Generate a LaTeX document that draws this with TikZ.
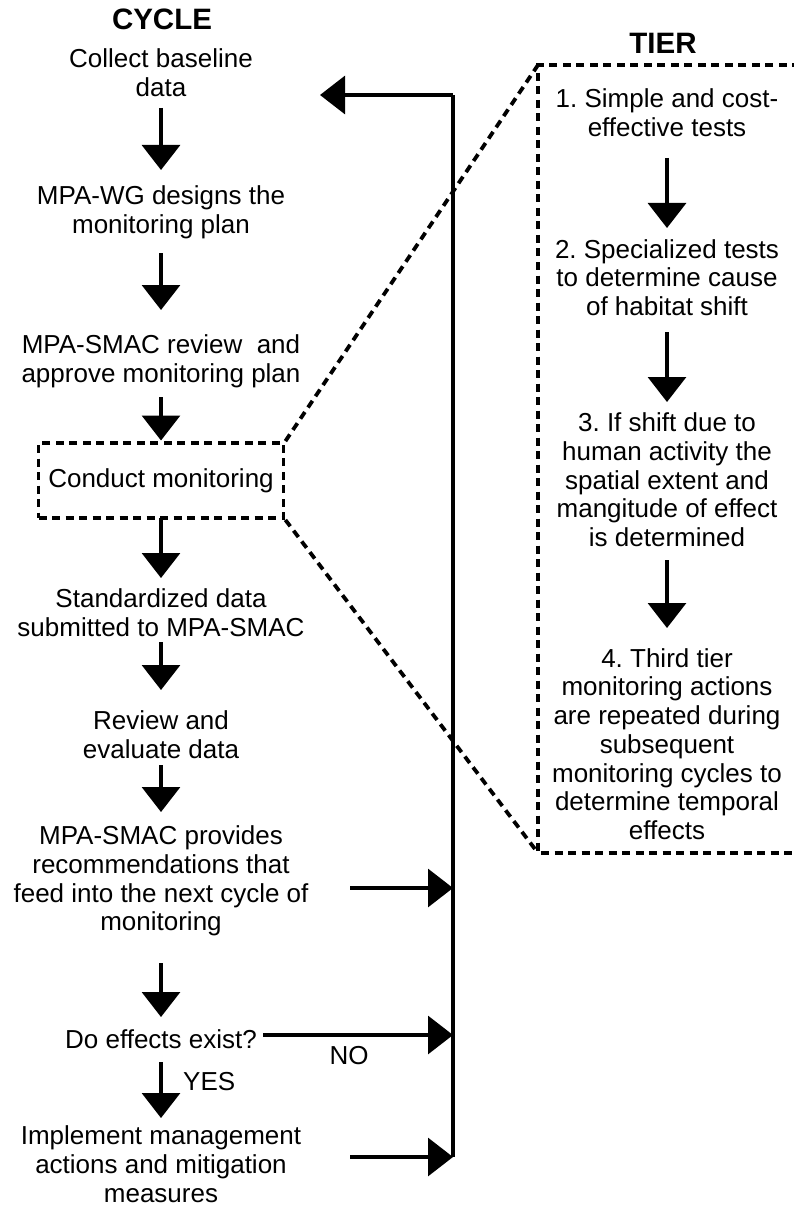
\documentclass[tikz,border=0pt]{standalone}
\usepackage{fontspec}
\setmainfont{Liberation Sans}
\usetikzlibrary{arrows.meta}
\frenchspacing
\begin{document}
\begin{tikzpicture}[x=1pt,y=-1pt,
  txt/.style={align=center,inner sep=0pt,font=\fontsize{26}{28.7}\selectfont},
  hdr/.style={inner sep=0pt,font=\fontsize{29.5}{32}\selectfont\bfseries},
  arr/.style={line width=3.2pt,-{Triangle[length=25pt,width=38pt]}},
  solid line/.style={line width=3.2pt},
  dash box/.style={line width=3.8pt,dash pattern=on 8pt off 5.5pt}]
\useasboundingbox (0,0) rectangle (793,1206);

% left column
\node[hdr] (cycle) at (162,19.5) {CYCLE};
\node[txt] (collect) at (161,73) {Collect baseline\\data};
\node[txt] (wg) at (161,212) {MPA-WG designs the\\monitoring plan};
\node[txt] (smac) at (161,361) {MPA-SMAC review\ \ and\\approve monitoring plan};
\node[txt,draw,dash box,minimum width=245pt,minimum height=75pt] (conduct) at (161,480.5) {Conduct monitoring};
\node[txt] (std) at (161,613) {Standardized data\\submitted to MPA-SMAC};
\node[txt] (review) at (161,735) {Review and\\evaluate data};
\node[txt] (provides) at (161,881) {MPA-SMAC provides\\recommendations that\\feed into the next cycle of\\monitoring};
\node[txt] (doeff) at (161,1039) {Do effects exist?};
\node[txt] (impl) at (161,1164) {Implement management\\actions and mitigation\\measures};
\node[txt,anchor=west] (yes) at (183,1082) {YES};
\node[txt] (no) at (349,1056) {NO};

\draw[arr,shorten <=35pt,shorten >=42pt] (collect.center) -- (wg.center);
\draw[arr,shorten <=41pt,shorten >=51pt] (wg.center) -- (smac.center);
\draw[arr,shorten <=36pt,shorten >=40pt] (smac.center) -- (conduct.center);
\draw[arr,shorten <=37.5pt,shorten >=35pt] (conduct.center) -- (std.center);
\draw[arr,shorten <=29pt,shorten >=45pt] (std.center) -- (review.center);
\draw[arr,shorten <=30pt,shorten >=69pt] (review.center) -- (provides.center);
\draw[arr,shorten <=82pt,shorten >=22pt] (provides.center) -- (doeff.center);
\draw[arr,shorten <=23pt,shorten >=46pt] (doeff.center) -- (impl.center);

% feedback loop
\coordinate (vtop) at (453,95);
\coordinate (vbot) at (453,1157);
\coordinate (backtip) at (320,95);
\coordinate (h1) at (350,888);
\coordinate (h2) at (263,1035);
\coordinate (h3) at (350,1157);
\draw[solid line] (vbot) -- (vtop);
\draw[arr] (vtop) -- (backtip);
\draw[arr] (h1) -- (h1 -| vtop);
\draw[arr] (h2) -- (h2 -| vtop);
\draw[arr] (h3) -- (vbot);

% tier
\node[hdr] (tier) at (663,43) {TIER};
\coordinate (tl) at (538,65);
\coordinate (bl) at (538,853);
\coordinate (tr) at (800,65);
\coordinate (br) at (800,853);
\draw[dash box] (tr) -- (tl) -- (bl) -- (br);
\draw[dash box] (conduct.north east) -- (tl);
\draw[dash box] (conduct.south east) -- (bl);

\node[txt] (t1) at (667,112.5) {1. Simple and cost-\\effective tests};
\node[txt] (t2) at (667,277.5) {2. Specialized tests\\to determine cause\\of habitat shift};
\node[txt] (t3) at (667,480) {3. If shift due to\\human activity the\\spatial extent and\\mangitude of effect\\is determined};
\node[txt] (t4) at (667,744) {4. Third tier\\monitoring actions\\are repeated during\\subsequent\\monitoring cycles to\\determine temporal\\effects};

\draw[arr,shorten <=45.5pt,shorten >=49.5pt] (t1.center) -- (t2.center);
\draw[arr,shorten <=54.5pt,shorten >=78pt] (t2.center) -- (t3.center);
\draw[arr,shorten <=80pt,shorten >=116pt] (t3.center) -- (t4.center);
\end{tikzpicture}
\end{document}
